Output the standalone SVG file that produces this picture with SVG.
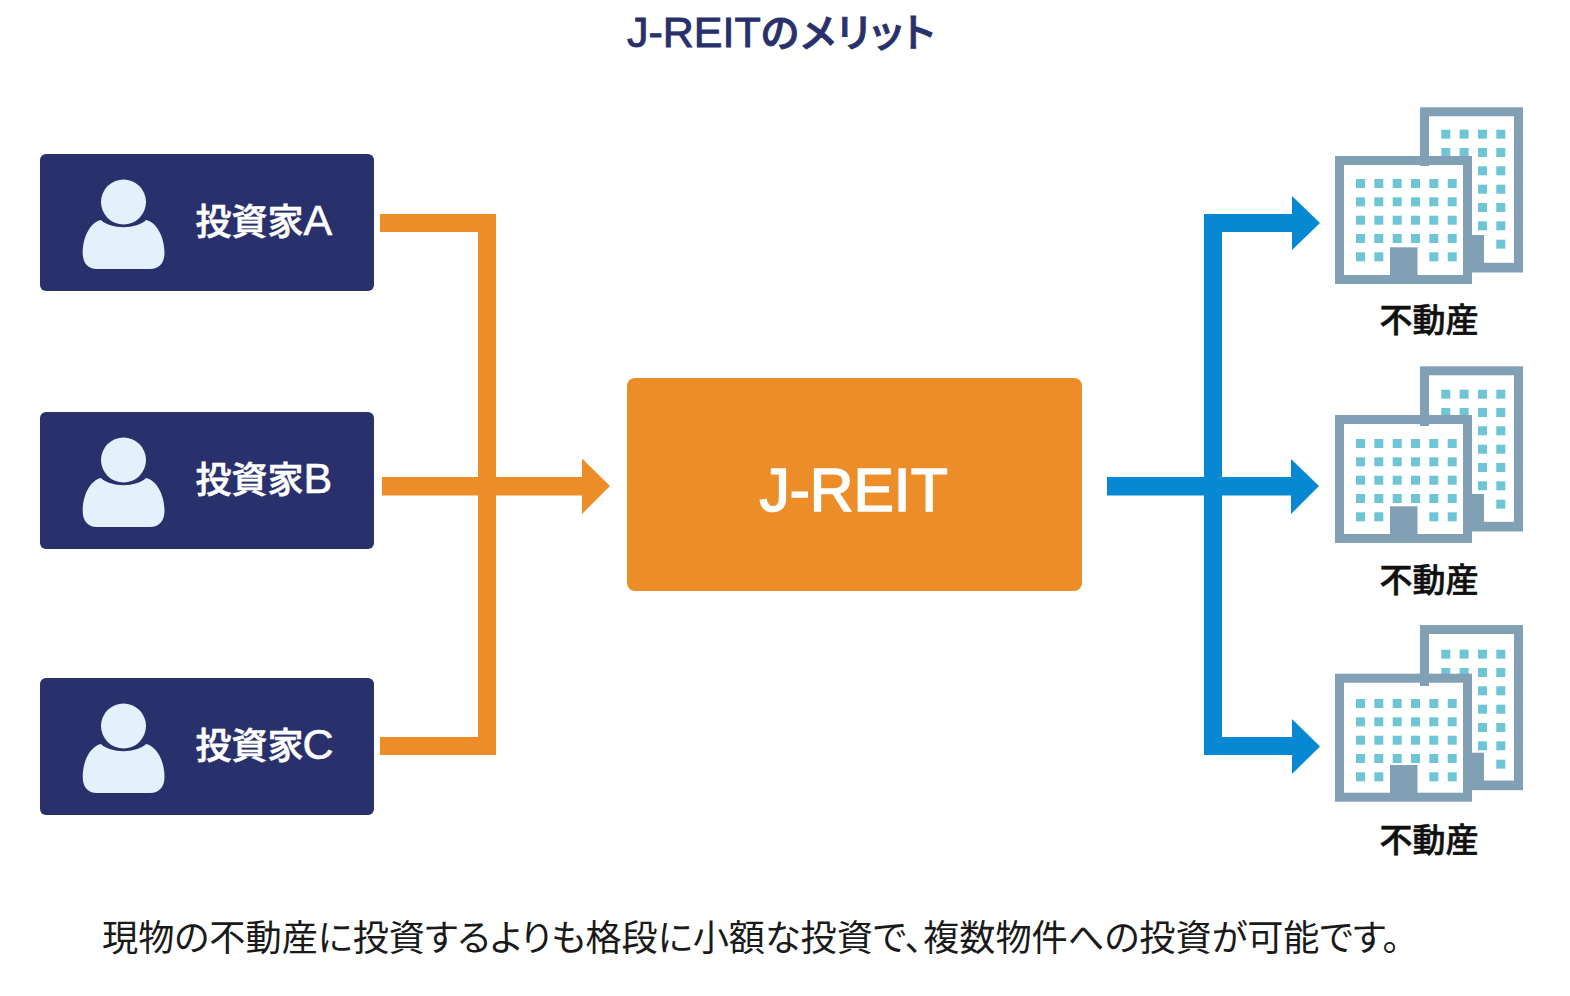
<svg xmlns="http://www.w3.org/2000/svg" xmlns:xlink="http://www.w3.org/1999/xlink" width="1570" height="996" viewBox="0 0 1570 996">
  <style>
    text { font-family: "Liberation Sans", "Noto Sans CJK JP", sans-serif; font-feature-settings: "palt"; }
    .box { fill: #29316c; }
    .person { fill: #e3f1fd; }
    .inv { fill: #ffffff; stroke: #ffffff; stroke-width: 0.6px; font-size: 36px; font-weight: 500; }
    .lat { font-size: 43px; }
    .re { fill: #111111; stroke: #111111; stroke-width: 0.6px; font-size: 33px; font-weight: 500; text-anchor: middle; }
    .o { fill: #ec8d28; }
    .b { fill: #0689d2; }
    .frame { fill: #81a0b5; }
    .room { fill: #ffffff; }
    .win { fill: #6dc5d5; }
  </style>
  <defs>
    <g id="person">
      <circle cx="123.500" cy="202" r="22.500" class="person"/>
      <path class="person" d="M101 220 C110 229.500 137 229.500 146 220 C156 222 164.500 236 164.500 253 C164.500 263 159 269 150 269 L97 269 C88 269 82.700 263 82.700 253 C82.700 236 91 222 101 220 Z"/>
    </g>
    <g id="win-row-b">
      <rect width="9" height="9" class="win"/><rect x="18.300" width="9" height="9" class="win"/><rect x="36.700" width="9" height="9" class="win"/><rect x="55" width="9" height="9" class="win"/>
    </g>
    <g id="win-row-f">
      <rect width="9" height="9" class="win"/><rect x="18.300" width="9" height="9" class="win"/><rect x="36.700" width="9" height="9" class="win"/><rect x="55" width="9" height="9" class="win"/><rect x="73.300" width="9" height="9" class="win"/><rect x="91.700" width="9" height="9" class="win"/>
    </g>
    <!-- rear block outline and its ground-floor annex -->
    <g id="rear-frame">
      <rect x="1420" y="107.300" width="103" height="165.200" class="frame"/>
      <rect x="1429" y="116.300" width="85" height="146.500" class="room"/>
      <rect x="1470" y="235" width="14" height="33" class="frame"/>
    </g>
    <g id="rear-windows">
      <use xlink:href="#win-row-b" x="1441.300" y="129.700"/>
      <use xlink:href="#win-row-b" x="1441.300" y="148"/>
      <rect x="1478" y="166.300" width="9" height="9" class="win"/><rect x="1496.300" y="166.300" width="9" height="9" class="win"/>
      <rect x="1478" y="184.700" width="9" height="9" class="win"/><rect x="1496.300" y="184.700" width="9" height="9" class="win"/>
      <rect x="1478" y="203" width="9" height="9" class="win"/><rect x="1496.300" y="203" width="9" height="9" class="win"/>
      <rect x="1478" y="221.300" width="9" height="9" class="win"/><rect x="1496.300" y="221.300" width="9" height="9" class="win"/>
      <rect x="1496.300" y="239.700" width="9" height="9" class="win"/>
    </g>
    <!-- front block outline and door -->
    <g id="front-frame">
      <rect x="1335" y="156" width="137" height="128" class="frame"/>
      <rect x="1344" y="165" width="119" height="110" class="room"/>
      <rect x="1390" y="247.300" width="27.500" height="28" class="frame"/>
    </g>
    <g id="front-windows">
      <rect x="1420" y="160" width="9" height="6" class="frame"/>
      <use xlink:href="#win-row-f" x="1356" y="179"/>
      <use xlink:href="#win-row-f" x="1356" y="197.300"/>
      <use xlink:href="#win-row-f" x="1356" y="215.700"/>
      <use xlink:href="#win-row-f" x="1356" y="234"/>
      <rect x="1356" y="252.300" width="9" height="9" class="win"/><rect x="1374.300" y="252.300" width="9" height="9" class="win"/>
      <rect x="1429.300" y="252.300" width="9" height="9" class="win"/><rect x="1447.700" y="252.300" width="9" height="9" class="win"/>
    </g>
  </defs>

  <text x="627" y="47" font-weight="500" font-size="43" fill="#29316c" stroke="#29316c" stroke-width="0.9">J-REIT<tspan font-size="39.500" letter-spacing="1.800">のメリット</tspan></text>

  <g id="connectors">
    <path class="o" d="M380 214 H496 V755 H380 V737 H478 V232 H380 Z"/>
    <path class="o" d="M382 477 H582 V458.500 L610 486 L582 514 V495.500 H382 Z"/>
    <path class="b" d="M1320 223 L1292 196 V214 H1204 V755 H1292 V774 L1320 746.500 L1292 719 V737 H1222 V232 H1292 V250 Z"/>
    <path class="b" d="M1107 477 H1291 V459 L1319 486 L1291 514 V495.500 H1107 Z"/>
  </g>

  <g id="investor-a">
    <rect x="40" y="154" width="334" height="137" rx="6" class="box"/>
    <use xlink:href="#person"/>
    <text x="195.500" y="235" class="inv">投資家<tspan class="lat">A</tspan></text>
  </g>
  <g id="investor-b">
    <rect x="40" y="412" width="334" height="137" rx="6" class="box"/>
    <use xlink:href="#person" y="258"/>
    <text x="195.500" y="493" class="inv">投資家<tspan class="lat">B</tspan></text>
  </g>
  <g id="investor-c">
    <rect x="40" y="678" width="334" height="137" rx="6" class="box"/>
    <use xlink:href="#person" y="524"/>
    <text x="195.500" y="759" class="inv">投資家<tspan class="lat" dx="-1">C</tspan></text>
  </g>

  <g id="j-reit">
    <rect x="627" y="378" width="455" height="213" rx="8" fill="#ec8d28"/>
    <text x="853.500" y="510.500" text-anchor="middle" font-size="60.500" font-weight="500" fill="#ffffff" stroke="#ffffff" stroke-width="1.600">J-REIT</text>
  </g>

  <g id="property-1">
    <use xlink:href="#rear-frame"/>
    <use xlink:href="#rear-windows"/>
    <use xlink:href="#front-frame"/>
    <use xlink:href="#front-windows"/>
    <text x="1429" y="331.500" class="re">不動産</text>
  </g>
  <g id="property-2">
    <use xlink:href="#rear-frame" y="259"/>
    <use xlink:href="#rear-windows" y="260"/>
    <use xlink:href="#front-frame" y="259"/>
    <use xlink:href="#front-windows" y="260"/>
    <text x="1429" y="592" class="re">不動産</text>
  </g>
  <g id="property-3">
    <use xlink:href="#rear-frame" y="517.700"/>
    <use xlink:href="#rear-windows" y="520"/>
    <use xlink:href="#front-frame" y="517.700"/>
    <use xlink:href="#front-windows" y="520"/>
    <text x="1429" y="851.500" class="re">不動産</text>
  </g>

  <text x="102" y="950.500" font-size="36.200" fill="#1a1a1a">現物の不動産に投資するよりも格段に小額な投資で、複数物件への投資が可能です。</text>
</svg>
